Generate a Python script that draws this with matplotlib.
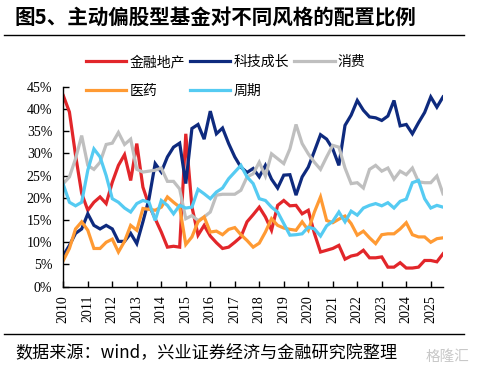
import numpy as np
import matplotlib
matplotlib.use("Agg")
import matplotlib.pyplot as plt
from matplotlib.ticker import FuncFormatter

plt.rcParams['font.family'] = ['Noto Sans CJK SC', 'DejaVu Sans']

# 季度数据 2010Q1 起，单位 %
jinrong = [43.0, 39.3, 29.6, 21.0, 17.2, 19.0, 20.2, 18.7, 23.5, 27.3,
           29.7, 23.9, 32.2, 22.4, 18.3, 15.3, 12.3, 8.9, 9.1, 8.9,
           34.4, 18.0, 11.6, 13.8, 11.4, 9.9, 8.6, 8.9, 10.0, 11.2,
           14.6, 16.2, 17.9, 15.7, 12.7, 18.3, 19.4, 18.2, 18.3, 16.4,
           17.2, 12.0, 7.8, 8.2, 8.6, 9.3, 6.2, 6.9, 7.2, 8.2,
           6.5, 6.5, 6.7, 4.4, 4.4, 5.4, 4.2, 4.2, 4.4, 5.9,
           5.9, 5.6, 7.4]
keji = [7.0, 9.3, 12.0, 13.0, 16.4, 13.8, 13.0, 13.8, 13.0, 10.2,
        10.2, 12.0, 9.7, 14.6, 19.8, 27.7, 25.8, 29.2, 31.4, 32.3,
        23.2, 35.6, 36.5, 33.2, 39.5, 34.4, 35.7, 32.2, 29.2, 26.9,
        25.7, 26.6, 24.7, 27.3, 24.2, 22.2, 25.1, 25.2, 20.6, 24.7,
        26.9, 30.5, 34.2, 33.2, 31.0, 27.3, 36.3, 38.6, 41.9, 39.7,
        38.2, 38.0, 37.4, 38.4, 41.9, 36.2, 36.5, 34.4, 36.9, 39.2,
        42.7, 40.4, 42.7]
xiaofei = [23.2, 24.7, 28.8, 34.0, 27.3, 26.4, 28.0, 32.0, 32.3, 34.7,
           32.0, 33.2, 26.4, 25.8, 26.0, 26.2, 26.7, 23.7, 23.7, 22.0,
           15.3, 16.0, 14.9, 15.7, 16.8, 20.6, 20.8, 20.8, 20.8, 21.7,
           24.7, 25.4, 28.0, 24.9, 29.9, 28.8, 27.7, 31.0, 36.5, 32.2,
           29.9, 28.0, 26.4, 29.2, 31.8, 31.4, 26.7, 23.2, 23.4, 22.2,
           26.4, 27.3, 26.0, 26.7, 24.2, 26.0, 25.2, 26.7, 23.6, 23.4,
           23.4, 24.9, 20.9]
yiyao = [5.9, 8.6, 13.0, 14.6, 12.7, 8.6, 8.6, 10.0, 10.7, 7.8,
         10.2, 13.8, 12.7, 17.6, 17.4, 17.2, 17.9, 20.2, 19.0, 17.9,
         9.5, 11.2, 14.6, 15.7, 12.3, 12.5, 11.7, 12.9, 13.3, 11.7,
         10.4, 8.9, 9.8, 12.3, 15.3, 13.8, 13.2, 12.9, 12.7, 14.6,
         12.7, 16.8, 20.2, 14.9, 14.4, 15.2, 15.9, 14.2, 11.6, 12.5,
         11.0, 9.7, 11.7, 11.9, 11.9, 13.0, 14.4, 11.7, 11.2, 11.2,
         10.0, 10.8, 11.0]
zhouqi = [23.0, 19.0, 18.2, 19.0, 26.2, 31.0, 29.2, 25.0, 19.8, 19.0,
          17.7, 16.8, 18.7, 19.4, 19.0, 14.9, 19.4, 18.3, 16.4, 18.3,
          17.7, 17.9, 21.9, 20.9, 19.8, 21.3, 22.2, 24.3, 25.8, 27.3,
          24.7, 23.2, 19.8, 19.4, 17.9, 16.8, 14.2, 11.6, 11.7, 11.9,
          13.4, 13.0, 11.4, 13.7, 14.7, 16.8, 14.6, 17.0, 16.1, 17.7,
          18.3, 18.7, 18.2, 18.9, 17.7, 19.2, 19.7, 23.4, 23.9, 19.8,
          17.7, 18.3, 17.9]

names = ["金融地产", "科技成长", "消费", "医药", "周期"]
colors = ["#E2262A", "#0E2A7E", "#BFBFBF", "#FF9A33", "#55CBF2"]
series = [jinrong, keji, xiaofei, yiyao, zhouqi]
years = list(range(2010, 2026))

x = 2010 + np.arange(len(jinrong)) / 4

W, H = 484, 375
fig = plt.figure(figsize=(W / 100, H / 100), dpi=100)
ax = fig.add_axes([63.3 / W, 1 - 286.7 / H, (443 - 63.3) / W, 200 / H])

lines = []
for vals, c, n in zip(series, colors, names):
    ln, = ax.plot(x, np.array(vals) / 100, color=c, lw=2.3, label=n,
                  solid_joinstyle="miter")
    lines.append(ln)

ax.set_xlim(2010, 2025.5)
ax.set_ylim(0, 0.45)
ax.set_xticks(years)
ax.set_xticklabels([str(y) for y in years], rotation=90,
                   fontfamily="Liberation Serif", fontsize=10)
ax.set_yticks(np.arange(0, 0.451, 0.05))
ax.yaxis.set_major_formatter(FuncFormatter(lambda v, p: f"{v * 100:.0f}%"))
for lab in ax.get_yticklabels():
    lab.set_fontfamily("Liberation Serif")
    lab.set_fontsize(10)
ax.spines["top"].set_visible(False)
ax.spines["right"].set_visible(False)
for s in ["left", "bottom"]:
    ax.spines[s].set_linewidth(1)
ax.tick_params(axis="both", direction="in", length=4, width=1, colors="black")
ax.tick_params(axis="y", pad=8)
ax.tick_params(axis="x", pad=6)

# 图例按行排列
order = [0, 3, 1, 4, 2]
fig.legend([lines[i] for i in order], [names[i] for i in order],
           ncol=3, loc="upper left", bbox_to_anchor=(86 / W, 1 - 55 / H),
           frameon=False, fontsize=10, handlelength=2.9, handletextpad=0.25,
           columnspacing=0.35, labelspacing=1.05, borderpad=0, borderaxespad=0)

fig.text(15 / W, 1 - 18 / H, "图5、主动偏股型基金对不同风格的配置比例",
         fontsize=14.8, fontweight="bold", va="center", ha="left")
fig.add_artist(plt.Line2D([4 / W, 464 / W], [1 - 34.5 / H, 1 - 34.5 / H],
                          color="black", lw=1))
fig.add_artist(plt.Line2D([4 / W, 464 / W], [1 - 333.5 / H, 1 - 333.5 / H],
                          color="black", lw=1))
fig.text(15 / W, 1 - 353 / H, "数据来源：wind，兴业证券经济与金融研究院整理",
         fontsize=12.3, va="center", ha="left")
fig.text(426 / W, 1 - 357 / H, "格隆汇", fontsize=10.5, color="#C8C8C8",
         va="center", ha="left")

fig.savefig("out.png", dpi=100)
